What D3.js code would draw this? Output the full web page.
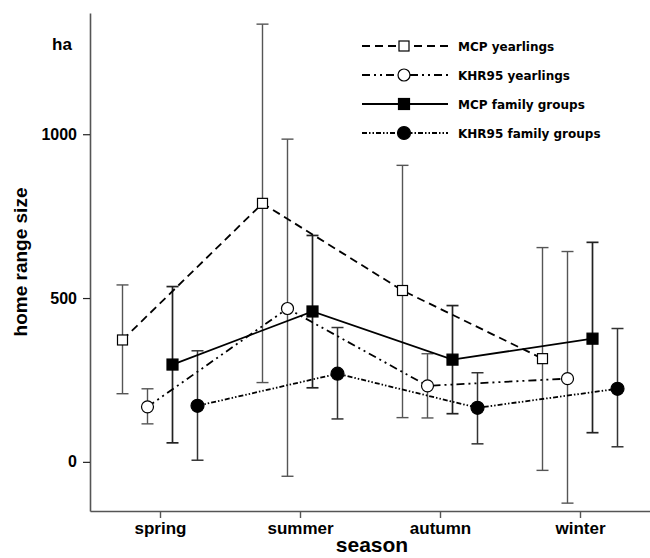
<!DOCTYPE html>
<html>
<head>
<meta charset="utf-8">
<script src="https://cdn.jsdelivr.net/npm/d3@7"></script>
<style>
body{margin:0;background:#fff;}
svg{display:block;}
</style>
</head>
<body>
<svg id="chart" width="650" height="558"></svg>
<script>
const seasons = ["spring","summer","autumn","winter"];
const seriesNames = ["MCP yearlings","KHR95 yearlings","MCP family groups","KHR95 family groups"];
const yTicks = [0, 500, 1000];

const mcpYearMean = [372, 789, 523, 315];
const mcpYearLow  = [208, 242, 135, -26];
const mcpYearHigh = [540, 1336, 905, 654];

const khrYearMean = [168, 468, 232, 254];
const khrYearLow  = [116, -44, 134, -126];
const khrYearHigh = [223, 985, 330, 642];

const mcpFamMean = [297, 459, 312, 376];
const mcpFamLow  = [58, 226, 147, 89];
const mcpFamHigh = [535, 691, 477, 670];

const khrFamMean = [171, 269, 165, 223];
const khrFamLow  = [5, 131, 55, 46];
const khrFamHigh = [339, 410, 272, 407];

const seriesData = [
  {name: seriesNames[0], mean: mcpYearMean, low: mcpYearLow, high: mcpYearHigh, marker: "square", filled: false, dash: "8,5", bar: "#555", barW: 1.4},
  {name: seriesNames[1], mean: khrYearMean, low: khrYearLow, high: khrYearHigh, marker: "circle", filled: false, dash: "8,4,2,4,2,4", bar: "#555", barW: 1.4},
  {name: seriesNames[2], mean: mcpFamMean, low: mcpFamLow, high: mcpFamHigh, marker: "square", filled: true, dash: null, bar: "#222", barW: 1.7},
  {name: seriesNames[3], mean: khrFamMean, low: khrFamLow, high: khrFamHigh, marker: "circle", filled: true, dash: "5,2,1.5,2,1.5,2", bar: "#333", barW: 1.5}
];

const svg = d3.select("#chart");
const x = d3.scalePoint().domain(seasons).range([90, 650]).padding(0.5);
const off = d3.scalePoint().domain(seriesNames).range([-37.5, 37.5]);
const y = d3.scaleLinear().domain([-150, 1370]).range([511, 13]);

const axisColor = "#555";

// Y axis
const yAxis = svg.append("g").attr("transform", "translate(90,0)")
  .call(d3.axisLeft(y).tickValues(yTicks).tickFormat(d3.format("d")).tickSize(7).tickPadding(6).tickSizeOuter(0));
yAxis.select(".domain").attr("stroke", axisColor).attr("stroke-width", 1.6);
yAxis.selectAll(".tick line").attr("stroke", "#222").attr("stroke-width", 1.2);
yAxis.selectAll(".tick text").attr("font-family", "Liberation Sans, Arial, sans-serif")
  .attr("font-weight", "bold").attr("font-size", 16).attr("fill", "#000");

// X axis
const xAxis = svg.append("g").attr("transform", "translate(0,511)")
  .call(d3.axisBottom(x).tickSize(7).tickPadding(4).tickSizeOuter(0));
xAxis.select(".domain").attr("stroke", axisColor).attr("stroke-width", 1.6);
xAxis.selectAll(".tick line").attr("stroke", axisColor).attr("stroke-width", 1.4);
xAxis.selectAll(".tick text").attr("font-family", "Liberation Sans, Arial, sans-serif")
  .attr("font-weight", "bold").attr("font-size", 17).attr("fill", "#000");

// Axis titles
svg.append("text").attr("x", 372).attr("y", 552).attr("text-anchor", "middle")
  .attr("font-family", "Liberation Sans, Arial, sans-serif").attr("font-weight", "bold")
  .attr("font-size", 21).text("season");
svg.append("text").attr("transform", "translate(27,262) rotate(-90)").attr("text-anchor", "middle")
  .attr("font-family", "Liberation Sans, Arial, sans-serif").attr("font-weight", "bold")
  .attr("font-size", 19).text("home range size");
svg.append("text").attr("x", 52).attr("y", 50)
  .attr("font-family", "Liberation Sans, Arial, sans-serif").attr("font-weight", "bold")
  .attr("font-size", 17).text("ha");

const px = (s, i) => x(seasons[i]) + off(s.name);

// Error bars
seriesData.forEach(s => {
  const g = svg.append("g");
  seasons.forEach((season, i) => {
    const cx = px(s, i);
    g.append("line").attr("x1", cx).attr("x2", cx).attr("y1", y(s.low[i])).attr("y2", y(s.high[i]))
      .attr("stroke", s.bar).attr("stroke-width", s.barW);
    [s.low[i], s.high[i]].forEach(v => {
      g.append("line").attr("x1", cx - 6).attr("x2", cx + 6).attr("y1", y(v)).attr("y2", y(v))
        .attr("stroke", s.bar).attr("stroke-width", s.barW);
    });
  });
});

// Lines
const lineGen = d3.line();
seriesData.forEach(s => {
  const pts = seasons.map((season, i) => [px(s, i), y(s.mean[i])]);
  const p = svg.append("path").attr("d", lineGen(pts)).attr("fill", "none")
    .attr("stroke", "#000").attr("stroke-width", 1.8);
  if (s.dash) p.attr("stroke-dasharray", s.dash);
});

function drawMarker(g, s, cx, cy) {
  if (s.marker === "square") {
    const sz = s.filled ? 11 : 10;
    g.append("rect").attr("x", cx - sz/2).attr("y", cy - sz/2).attr("width", sz).attr("height", sz)
      .attr("fill", s.filled ? "#000" : "#fff").attr("stroke", "#000").attr("stroke-width", 1.2);
  } else {
    g.append("circle").attr("cx", cx).attr("cy", cy).attr("r", s.filled ? 6.5 : 6)
      .attr("fill", s.filled ? "#000" : "#fff").attr("stroke", "#000").attr("stroke-width", 1.2);
  }
}

// Markers
seriesData.forEach(s => {
  const g = svg.append("g");
  seasons.forEach((season, i) => drawMarker(g, s, px(s, i), y(s.mean[i])));
});

// Legend
const legendY = [46, 75, 104, 133];
seriesData.forEach((s, k) => {
  const g = svg.append("g");
  const ly = legendY[k];
  const l = g.append("line").attr("x1", 362).attr("x2", 448).attr("y1", ly).attr("y2", ly)
    .attr("stroke", "#000").attr("stroke-width", 1.8);
  if (s.dash) l.attr("stroke-dasharray", s.dash);
  drawMarker(g, s, 404, ly);
  g.append("text").attr("x", 458).attr("y", ly + 4.5)
    .attr("font-family", "DejaVu Sans, Verdana, sans-serif").attr("font-weight", "bold")
    .attr("font-size", 12).text(s.name);
});
</script>
</body>
</html>
